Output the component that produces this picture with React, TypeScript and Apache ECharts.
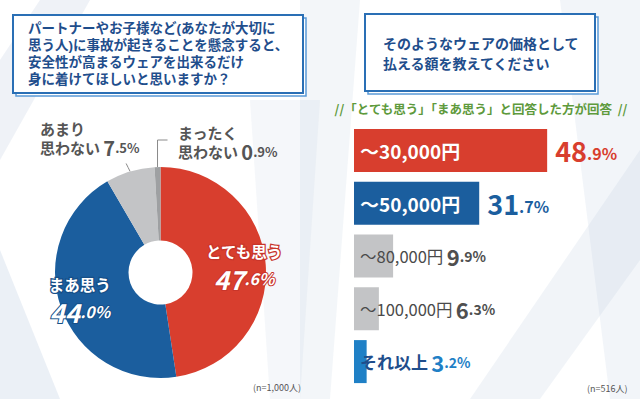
import React, { useEffect, useRef } from "react";
import * as echarts from "echarts";

const pieNames = ["とても思う", "まあ思う", "あまり\n思わない", "まったく\n思わない"];
const pieValues = [47.6, 44.0, 7.5, 0.9];
const pieColors = ["#d83e2e", "#1b5e9e", "#c3c4c6", "#9ea0a2"];

const barCats = ["〜30,000円", "〜50,000円", "〜80,000円", "〜100,000円", "それ以上"];
const barValues = [48.9, 31.7, 9.9, 6.3, 3.2];
const barColors = ["#d83e2e", "#1b5e9e", "#c3c4c6", "#c3c4c6", "#1f80c6"];
const barValueColors = ["#d83e2e", "#1b5e9e", "#4f4f4f", "#4f4f4f", "#1f80c6"];

const leftTitle = [
  "パートナーやお子様など(あなたが大切に",
  "思う人)に事故が起きることを懸念すると、",
  "安全性が高まるウェアを出来るだけ",
  "身に着けてほしいと思いますか？",
];
const rightTitle = ["そのようなウェアの価格として", "払える額を教えてください"];
const subTitle = "//「とても思う」「まあ思う」と回答した方が回答  //";
const pieNote = "(n=1,000人)";
const barNote = "(n=516人)";

const FONT = "'Noto Sans CJK JP', 'Noto Sans', sans-serif";
const TIGHT_FONT = "'Liberation Sans', 'Noto Sans CJK JP', sans-serif";

function splitPct(v: number) {
  const s = v.toFixed(1);
  const [a, b] = s.split(".");
  return { i: a, d: "." + b + "%" };
}

export default function App() {
  const ref = useRef<HTMLDivElement>(null);
  useEffect(() => {
    if (!ref.current) return;
    const chart = echarts.init(ref.current, undefined, { renderer: "svg" });

    const pieData = pieValues.map((v, idx) => {
      const p = splitPct(v);
      const nm = pieNames[idx];
      let label: any;
      if (idx === 0 || idx === 1) {
        const outline = idx === 0 ? "#c8352a" : "#164f88";
        label = {
          show: true,
          position: "inside",
          offset: idx === 0 ? [12, -3] : [-13, 1],
          formatter: `{n|${nm}}\n{i|${p.i}}{d|${p.d}}`,
          rich: {
            n: { fontSize: 15.5, fontWeight: "bold", color: "#fff", fontFamily: FONT, lineHeight: 28, align: "center", textBorderColor: outline, textBorderWidth: 2.5 },
            i: { fontSize: 26, fontWeight: "bold", fontStyle: "italic", color: "#fff", fontFamily: FONT, textBorderColor: outline, textBorderWidth: 2 },
            d: { fontSize: 16, fontWeight: "bold", fontStyle: "italic", color: "#fff", fontFamily: FONT, textBorderColor: outline, textBorderWidth: 2 },
          },
        };
      } else {
        const lines = nm.split("\n");
        label = {
          show: true,
          position: "outside",
          formatter: `{n|${lines[0]}}\n{n|${lines[1]}} {i|${p.i}}{d|${p.d}}`,
          rich: {
            n: { fontSize: 15, fontWeight: "bold", color: "#555", fontFamily: FONT, lineHeight: 19 },
            i: { fontSize: 20, fontWeight: "bold", color: "#555", fontFamily: FONT, lineHeight: 19 },
            d: { fontSize: 13, fontWeight: "bold", color: "#555", fontFamily: FONT, lineHeight: 19 },
          },
        };
      }
      return {
        name: nm,
        value: v,
        itemStyle: { color: pieColors[idx] },
        label,
        labelLine: { show: idx >= 2, length: 8, length2: 4, lineStyle: { color: "#8a8a8a", width: 1 } },
      };
    });

    const barData = barValues.map((v, idx) => {
      const p = splitPct(v);
      const c = barCats[idx];
      let label: any;
      if (idx < 2) {
        label = {
          show: true,
          position: "insideLeft",
          distance: 6,
          formatter: c,
          color: "#fff",
          fontSize: 19,
          fontWeight: "bold",
          fontFamily: FONT,
          textBorderColor: "rgba(0,0,0,0.15)",
          textBorderWidth: 0.5,
        };
      } else {
        const isLast = idx === 4;
        label = {
          show: true,
          position: "insideLeft",
          distance: 6,
          formatter: `{c|${c}} {i|${p.i}}{d|${p.d}}`,
          rich: {
            c: { fontSize: isLast ? 17 : 16.5, fontWeight: isLast ? "bold" : "normal", color: isLast ? "#1f4e8c" : "#4a4a4a", fontFamily: FONT },
            i: { fontSize: 22, fontWeight: "bold", color: barValueColors[idx], fontFamily: FONT },
            d: { fontSize: 14, fontWeight: "bold", color: barValueColors[idx], fontFamily: FONT },
          },
        };
      }
      return { value: v, itemStyle: { color: barColors[idx] }, label };
    });

    const barValueLabels = barValues.map((v, idx) => {
      const p = splitPct(v);
      return {
        value: v,
        itemStyle: { color: "rgba(0,0,0,0)" },
        label: {
          show: idx < 2,
          position: "right",
          distance: 8,
          formatter: `{i|${p.i}}{d|${p.d}}`,
          rich: {
            i: { fontSize: 27, fontWeight: "bold", color: barValueColors[idx], fontFamily: FONT },
            d: { fontSize: 16, fontWeight: "bold", color: barValueColors[idx], fontFamily: FONT, padding: [6, 0, 0, 0] },
          },
        },
      };
    });

    const box = (x: number, y: number, w: number, h: number) => [
      { type: "rect", z: 1, shape: { x: x + 3, y: y + 3, width: w, height: h }, style: { fill: "#fff", stroke: "#5b9bd8", lineWidth: 1.5 } },
      { type: "rect", z: 2, shape: { x, y, width: w, height: h }, style: { fill: "#fff", stroke: "#2a6fb5", lineWidth: 2 } },
    ];

    const streak = (pts: number[][], op: number) => ({
      type: "polygon",
      z: -10,
      silent: true,
      shape: { points: pts },
      style: { fill: `rgba(190,204,224,${op})` },
    });

    const titleLines = leftTitle.map((t, k) => ({
      type: "text",
      z: 5,
      style: {
        x: 28,
        y: 28 + k * 17,
        text: t,
        verticalAlign: "middle",
        fontSize: 13.5,
        fontWeight: "bold",
        fill: "#1f4e8c",
        fontFamily: TIGHT_FONT,
      },
    }));
    const rightLines = rightTitle.map((t, k) => ({
      type: "text",
      z: 5,
      style: {
        x: 383,
        y: 43 + k * 20,
        text: t,
        verticalAlign: "middle",
        fontSize: 14,
        fontWeight: "bold",
        fill: "#1f4e8c",
        fontFamily: FONT,
      },
    }));

    chart.setOption({
      animation: false,
      backgroundColor: "#ffffff",
      graphic: [
        streak([[0, 60], [40, 0], [90, 0], [0, 160]], 0.25),
        streak([[0, 250], [0, 399], [60, 399]], 0.3),
        streak([[300, 0], [360, 0], [330, 399], [300, 399]], 0.18),
        streak([[560, 0], [640, 0], [640, 399], [610, 399]], 0.2),
        streak([[470, 399], [640, 150], [640, 260], [540, 399]], 0.22),
        streak([[250, 100], [320, 100], [300, 399], [270, 399]], 0.15),
        ...box(13, 15, 290, 78),
        ...box(365, 14, 230, 77),
        ...titleLines,
        ...rightLines,
        {
          type: "text",
          z: 5,
          style: {
            x: 481,
            y: 108,
            text: subTitle,
            align: "center",
            verticalAlign: "middle",
            fontSize: 12.5,
            fontWeight: "bold",
            fill: "#5e9a3c",
            fontFamily: FONT,
          },
        },
        {
          type: "text",
          z: 5,
          style: { x: 253, y: 387, text: pieNote, verticalAlign: "middle", fontSize: 9, fill: "#555", fontFamily: FONT },
        },
        {
          type: "text",
          z: 5,
          style: { x: 587, y: 388, text: barNote, verticalAlign: "middle", fontSize: 9, fill: "#555", fontFamily: FONT },
        },
      ],
      grid: { left: 354, top: 124, width: 237, height: 264 },
      xAxis: { type: "value", min: 0, max: 60, show: false },
      yAxis: { type: "category", data: barCats, inverse: true, show: false },
      series: [
        {
          type: "pie",
          center: [160.5, 272.5],
          radius: [32, 105.5],
          startAngle: 90,
          clockwise: true,
          avoidLabelOverlap: false,
          itemStyle: { borderWidth: 0 },
          data: pieData,
          labelLayout: (params: any) => {
            const i = params.dataIndex;
            const pts = params.labelLinePoints;
            if (i === 2) {
              const p0 = pts ? pts[0] : [130, 171];
              return {
                x: 40,
                y: 119,
                align: "left",
                verticalAlign: "top",
                labelLinePoints: [p0, [p0[0] - 2, p0[1] - 4], [p0[0] - 4, p0[1] - 8]],
              };
            }
            if (i === 3) {
              const p0 = pts ? pts[0] : [157, 168];
              return {
                x: 178,
                y: 123,
                align: "left",
                verticalAlign: "top",
                labelLinePoints: [p0, [p0[0], 140], [p0[0] + 10, 140]],
              };
            }
            return {};
          },
        },
        {
          type: "bar",
          barWidth: 43,
          data: barData,
          z: 3,
        },
        {
          type: "bar",
          barWidth: 43,
          barGap: "-100%",
          silent: true,
          data: barValueLabels,
          z: 2,
        },
      ],
    });
    return () => chart.dispose();
  }, []);
  return (
    <div
      ref={ref}
      style={{ position: "fixed", left: 0, top: 0, width: 640, height: 399 }}
    />
  );
}
